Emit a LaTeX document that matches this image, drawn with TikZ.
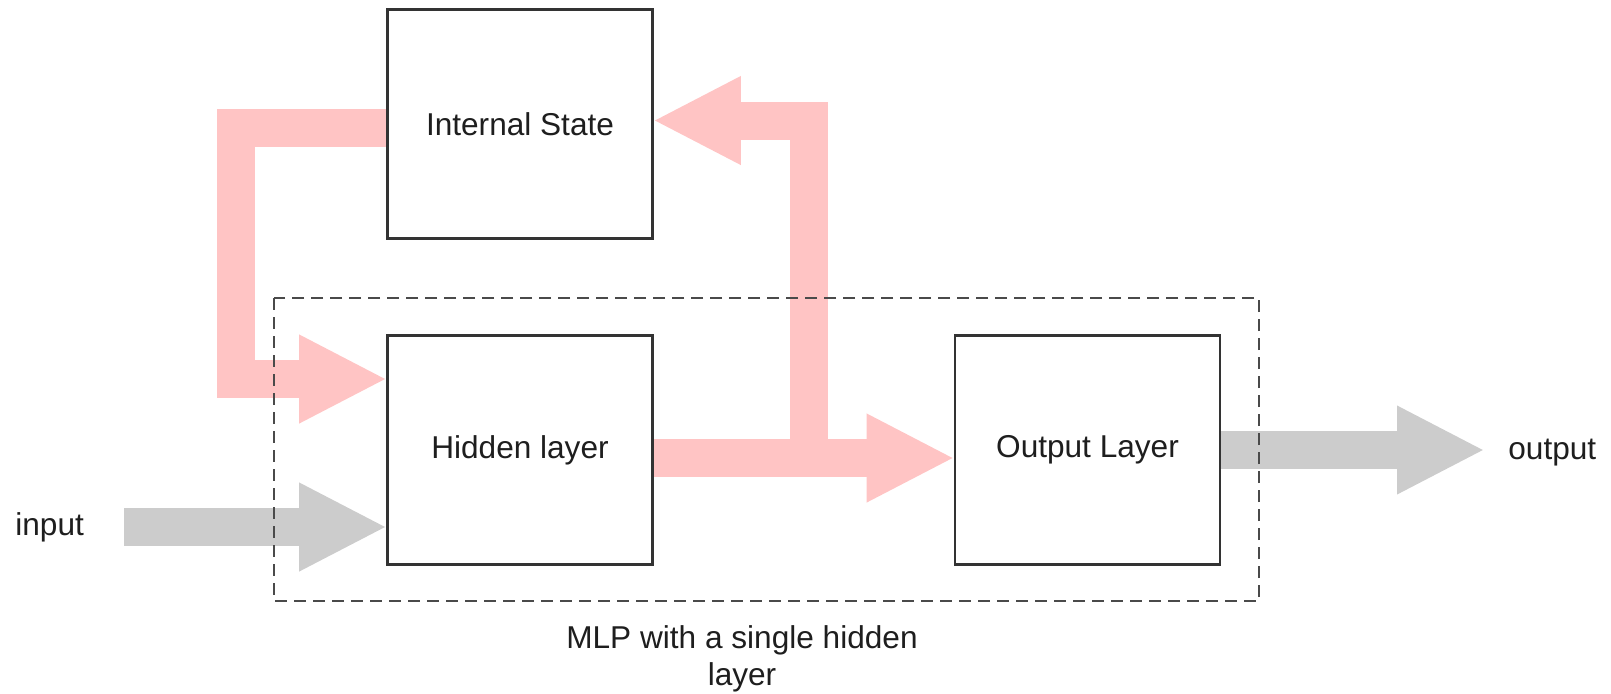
\documentclass[tikz,border=0pt]{standalone}
\usepackage{fontspec}
\setmainfont{Liberation Sans}
\usetikzlibrary{arrows.meta}

\definecolor{flowpink}{HTML}{FFC4C4}
\definecolor{flowgrey}{HTML}{CCCCCC}
\definecolor{inkdark}{HTML}{1E1E1E}
\definecolor{framegrey}{HTML}{333333}
\definecolor{dashgrey}{HTML}{4A4A4A}

\begin{document}
\begin{tikzpicture}[x=0.5pt,y=-0.5pt,
  every node/.style={font=\fontsize{15.8}{16}\selectfont, text=inkdark},
  layerbox/.style={draw=framegrey, line width=0.8pt, fill=white,
    minimum width=132pt, minimum height=114pt, inner sep=0pt},
  plainlabel/.style={inner sep=0pt},
  fatarrow/.style={line width=19pt, line join=miter, line cap=butt,
    -{Triangle[length=44pt 0 0, width=41pt 0 0]}},
  groupframe/.style={draw=dashgrey, line width=1pt, dash pattern=on 6pt off 3.5pt}
]
\useasboundingbox (0,0) rectangle (1611,693);

% layer boxes
\node[layerbox] (state)  at (520,124)    {Internal State};
\node[layerbox] (hidden) at (520,450)    {Hidden layer};
\node[layerbox] (output) at (1087.5,450) {Output Layer};

% free labels
\node[plainlabel, anchor=base west] (inlabel)  at (15,535)   {input};
\node[plainlabel, anchor=base west] (outlabel) at (1508,459) {output};
\node[plainlabel, align=center, anchor=base,
  font=\fontsize{15.8}{18.5}\selectfont] (caption) at (742,685)
  {MLP with a single hidden\\layer};

\coordinate (instart) at (124,527);
\coordinate (branch)  at (809,458);

% data flow arrows
\draw[fatarrow, flowgrey] (instart) -- (instart -| hidden.west);
\draw[fatarrow, flowpink] ([yshift=-2pt]state.west) -- ++(-151,0)
  |- ([yshift=35.5pt]hidden.west);
\draw[fatarrow, flowpink] ([yshift=-4pt]hidden.east) -- ([yshift=-4pt]output.west);
\draw[fatarrow, flowpink] (branch) |- ([yshift=1.75pt]state.east);
\draw[fatarrow, flowgrey] (output.east) -- ([xshift=-11.5pt]outlabel.west |- output.east);

% redraw box frames above the arrows
\foreach \b in {state,hidden,output}
  \draw[framegrey, line width=0.8pt] (\b.south west) rectangle (\b.north east);

% group frame of the MLP
\draw[groupframe] (274,298) rectangle (1259,601);
\end{tikzpicture}
\end{document}
